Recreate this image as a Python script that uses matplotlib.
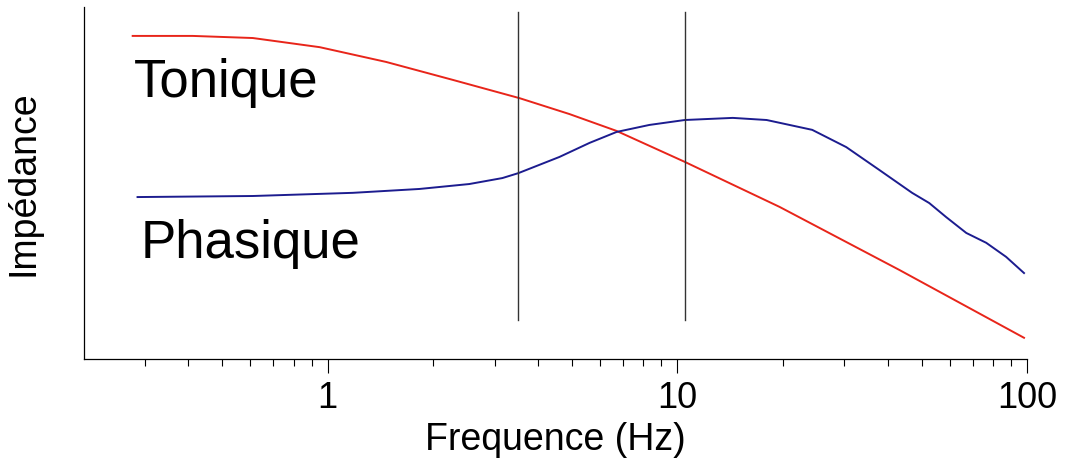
import matplotlib
matplotlib.use("Agg")
import matplotlib.pyplot as plt
from matplotlib.ticker import LogLocator, NullFormatter

plt.rcParams['font.family'] = ['Liberation Sans', 'DejaVu Sans']

# courbe tonique (rouge)
freq_tonique = [0.277, 0.411, 0.611, 0.949, 1.47, 2.28, 3.54, 4.91, 6.70, 10.5, 19.6, 43.1, 98.0]
imp_tonique = [91.8, 91.8, 91.2, 88.6, 84.4, 79.3, 74.1, 69.6, 64.8, 56.0, 43.2, 25.3, 6.0]

# courbe phasique (bleue)
freq_phasique = [0.286, 0.611, 1.18, 1.83, 2.54, 3.16, 3.51, 4.60, 5.61, 6.70, 8.32, 10.5,
                 14.4, 18.0, 24.3, 30.4, 37.8, 46.9, 52.5, 58.7, 67.0, 76.4, 87.1, 98.0]
imp_phasique = [46.0, 46.3, 47.2, 48.3, 49.7, 51.4, 52.8, 57.4, 61.4, 64.5, 66.5, 67.9,
                68.5, 67.9, 65.1, 60.2, 53.7, 47.2, 44.3, 40.3, 35.8, 33.0, 29.0, 24.4]

# limites verticales
freq_limites = [3.5, 10.5]

fig = plt.figure(figsize=(10.71, 4.71), dpi=100)
ax = fig.add_axes([0.0784, 0.238, 0.8806, 0.747])

ax.plot(freq_tonique, imp_tonique, color='#e8251a', lw=1.4)
ax.plot(freq_phasique, imp_phasique, color='#1c1c8f', lw=1.4)
for f in freq_limites:
    ax.plot([f, f], [11.1, 98.6], color='#333333', lw=1.0)

ax.text(0.279, 74.5, "Tonique", fontsize=38, ha='left', va='baseline')
ax.text(0.292, 28.7, "Phasique", fontsize=38, ha='left', va='baseline')

ax.set_xscale('log')
ax.set_xlim(0.201, 100)
ax.set_ylim(0, 100)
ax.set_xticks([1, 10, 100])
ax.set_xticklabels(["1", "10", "100"])
ax.xaxis.set_minor_locator(LogLocator(base=10, subs=range(2, 10)))
ax.xaxis.set_minor_formatter(NullFormatter())
ax.tick_params(axis='x', which='major', length=10, width=0.8, labelsize=26, pad=6)
ax.tick_params(axis='x', which='minor', length=5, width=0.8)
ax.set_yticks([])

for s in ['top', 'right']:
    ax.spines[s].set_visible(False)
ax.spines['left'].set_linewidth(0.9)
ax.spines['bottom'].set_linewidth(0.9)

ax.set_xlabel("Frequence (Hz)", fontsize=27, labelpad=4)
ax.set_ylabel("Impédance", fontsize=27)
ax.yaxis.set_label_coords(-0.045, 0.5)

fig.savefig("out.png", dpi=100)
